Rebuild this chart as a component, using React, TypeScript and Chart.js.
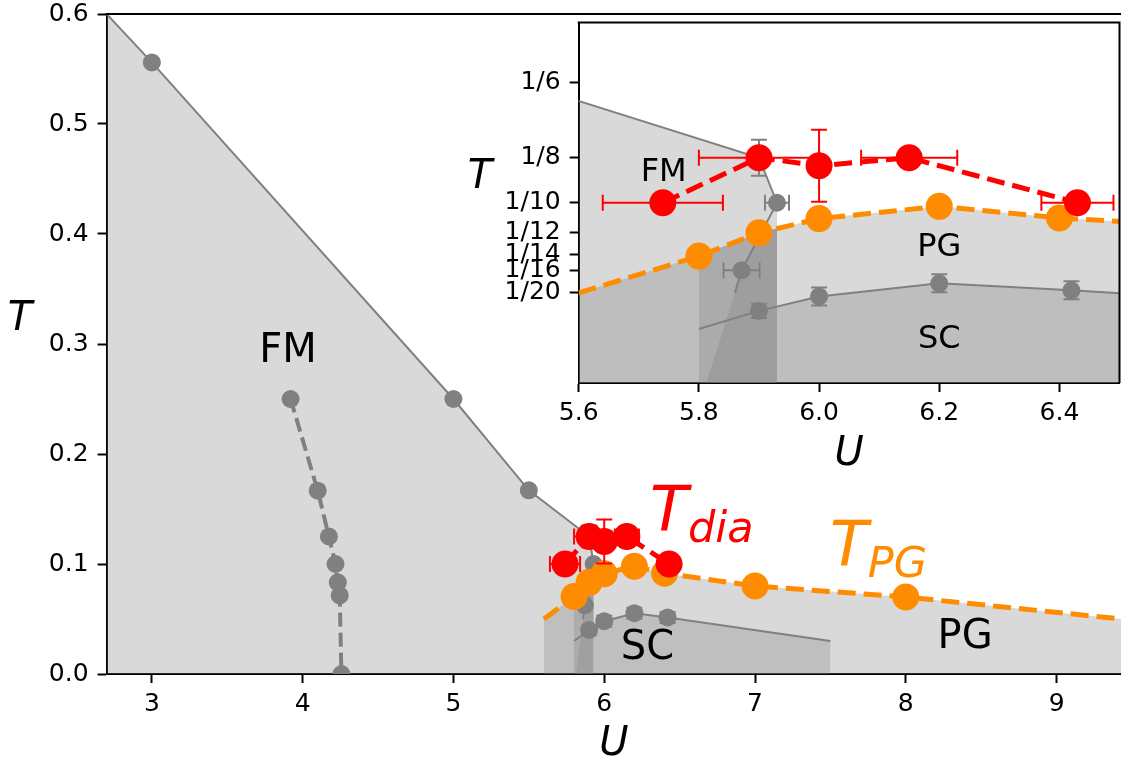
import React, { useEffect, useRef } from "react";
import { Chart, registerables } from "chart.js";

Chart.register(...registerables);

const GRAY = "#808080";
const RED = "#ff0000";
const ORANGE = "#ff8c00";
const FILL = "rgba(128,128,128,0.3)";
const FONT = "'DejaVu Sans', sans-serif";

// ---------- tick labels ----------
const mainXTicks = [3, 4, 5, 6, 7, 8, 9];
const mainXLabels = ["3", "4", "5", "6", "7", "8", "9"];
const mainYTicks = [0, 0.1, 0.2, 0.3, 0.4, 0.5, 0.6];
const mainYLabels = ["0.0", "0.1", "0.2", "0.3", "0.4", "0.5", "0.6"];
const insetXTicks = [5.6, 5.8, 6.0, 6.2, 6.4];
const insetXLabels = ["5.6", "5.8", "6.0", "6.2", "6.4"];
const insetYTicks = [1 / 20, 1 / 16, 1 / 14, 1 / 12, 1 / 10, 1 / 8, 1 / 6];
const insetYLabels = ["1/20", "1/16", "1/14", "1/12", "1/10", "1/8", "1/6"];

// ---------- FM boundary (solid gray) ----------
const fmLineU = [2.7, 3.0, 5.0, 5.5, 5.9, 5.93, 5.871, 5.86];
const fmLineT = [0.6, 0.556, 0.25, 0.167, 0.125, 0.1, 0.0625, 0.05];
const fmPtU = [3.0, 5.0, 5.5, 5.9, 5.93, 5.871];
const fmPtT = [0.556, 0.25, 0.167, 0.125, 0.1, 0.0625];
const fmPtXErr = [0, 0, 0, 0, 0.02, 0.03];
const fmPtYErr = [0, 0, 0, 0.01, 0, 0];

// ---------- low-U FM branch (dashed gray) ----------
const lowU = [3.92, 4.1, 4.174, 4.218, 4.233, 4.246, 4.257];
const lowT = [0.25, 1 / 6, 1 / 8, 1 / 10, 1 / 12, 1 / 14, 0];

// ---------- SC dome ----------
const scLineU = [5.8, 5.9, 6.0, 6.2, 6.42, 7.5];
const scLineT = [0.03, 0.04, 0.048, 0.0553, 0.0514, 0.03];
const scPtU = [5.9, 6.0, 6.2, 6.42];
const scPtT = [0.04, 0.048, 0.0553, 0.0514];
const scPtYErr = [0.004, 0.005, 0.005, 0.005];

// ---------- T_PG (orange) ----------
const pgU = [5.6, 5.8, 5.9, 6.0, 6.2, 6.4, 7.0, 8.0, 9.5];
const pgT = [0.05, 0.0704, 0.0833, 0.0912, 0.098, 0.0916, 0.08, 0.07, 0.049];
const pgPtU = [5.8, 5.9, 6.0, 6.2, 6.4, 7.0, 8.0];
const pgPtT = [0.0704, 0.0833, 0.0912, 0.098, 0.0916, 0.08, 0.07];
const pgPtYErr = [0.0033, 0.0033, 0.0033, 0.003, 0.003, 0, 0];

// ---------- T_dia (red) ----------
const diaU = [5.74, 5.9, 6.0, 6.15, 6.43];
const diaT = [0.1, 0.125, 0.1205, 0.125, 0.1];
const diaXErr = [0.1, 0.1, 0, 0.08, 0.06];
const diaYErr = [0, 0, 0.02, 0, 0];

// ---------- shaded regions ----------
const fmFillU = [2.7, 3.0, 5.0, 5.5, 5.9, 5.93];
const fmFillT = [0.6, 0.556, 0.25, 0.167, 0.125, 0.1];
const stripU = [5.8, 5.9, 5.93];
const stripT = [0.0704, 0.0833, 0.0857];
const wedgeU = [5.812, 5.86, 5.871, 5.904, 5.93];
const wedgeT = [0, 0.05, 0.0625, 0.0835, 0.0857];
const scFillU = [5.93, 6.0, 6.2, 6.42, 7.5];
const scFillT = [0.0424, 0.048, 0.0553, 0.0514, 0.03];

// ---------- text labels (data coordinates) ----------
const mainLabelText = ["FM", "SC", "PG"];
const mainLabelU = [3.903, 6.287, 8.393];
const mainLabelT = [0.2927, 0.0227, 0.0327];
const insetLabelText = ["FM", "PG", "SC"];
const insetLabelU = [5.7415, 6.2, 6.2];
const insetLabelT = [0.1168, 0.075, 0.0239];

const xy = (us: number[], ts: number[]) => us.map((u, i) => ({ x: u, y: ts[i] }));

function buildDatasets(): any[] {
  const fillDs = (us: number[], ts: number[]) => ({
    data: xy(us, ts),
    fill: "origin",
    backgroundColor: FILL,
    borderColor: "rgba(0,0,0,0)",
    borderWidth: 0,
    pointRadius: 0,
    order: 10,
  });
  return [
    fillDs(fmFillU, fmFillT),
    fillDs(pgU, pgT),
    fillDs(stripU, stripT),
    fillDs(wedgeU, wedgeT),
    fillDs(scFillU, scFillT),
    {
      data: xy(lowU, lowT),
      borderColor: GRAY,
      borderWidth: 4,
      borderDash: [14, 6],
      pointRadius: 9,
      pointBackgroundColor: GRAY,
      pointBorderWidth: 0,
      fill: false,
      order: 8,
    },
    { data: xy(fmLineU, fmLineT), borderColor: GRAY, borderWidth: 2, pointRadius: 0, fill: false, order: 7 },
    { data: xy(scLineU, scLineT), borderColor: GRAY, borderWidth: 2, pointRadius: 0, fill: false, order: 7 },
    {
      data: xy(fmPtU, fmPtT),
      showLine: false,
      pointRadius: 9,
      pointBackgroundColor: GRAY,
      pointBorderWidth: 0,
      errX: fmPtXErr,
      errY: fmPtYErr,
      errColor: GRAY,
      order: 6,
    },
    {
      data: xy(scPtU, scPtT),
      showLine: false,
      pointRadius: 9,
      pointBackgroundColor: GRAY,
      pointBorderWidth: 0,
      errY: scPtYErr,
      errColor: GRAY,
      order: 6,
    },
    {
      data: xy(pgU, pgT),
      borderColor: ORANGE,
      borderWidth: 5,
      borderDash: [18, 8],
      pointRadius: 0,
      fill: false,
      order: 4,
    },
    {
      data: xy(pgPtU, pgPtT),
      showLine: false,
      pointRadius: 13.5,
      pointBackgroundColor: ORANGE,
      pointBorderWidth: 0,
      errY: pgPtYErr,
      errColor: ORANGE,
      order: 3,
    },
    {
      data: xy(diaU, diaT),
      borderColor: RED,
      borderWidth: 5,
      borderDash: [18, 8],
      pointRadius: 13.5,
      pointBackgroundColor: RED,
      pointBorderWidth: 0,
      fill: false,
      errX: diaXErr,
      errY: diaYErr,
      errColor: RED,
      order: 1,
    },
  ];
}

function axis(
  min: number,
  max: number,
  ticks: number[],
  labels: string[],
  isX: boolean,
  size: number
): any {
  return {
    type: "linear",
    min,
    max,
    bounds: "data",
    afterBuildTicks: (s: any) => {
      s.ticks = ticks.map((v) => ({ value: v }));
    },
    afterFit: (s: any) => {
      if (isX) s.height = size;
      else s.width = size;
      s.paddingLeft = 0;
      s.paddingRight = 0;
      s.paddingTop = 0;
      s.paddingBottom = 0;
    },
    ticks: {
      autoSkip: false,
      maxRotation: 0,
      minRotation: 0,
      padding: isX ? 6 : 9,
      color: "#000",
      font: { family: FONT, size: 25 },
      callback: (_v: any, i: number) => labels[i],
    },
    grid: {
      display: true,
      drawOnChartArea: false,
      drawTicks: true,
      tickLength: 9,
      tickWidth: 2,
      tickColor: "#000",
      color: "#000",
    },
    border: { display: true, color: "#000", width: 2 },
  };
}

const errorBarPlugin = {
  id: "errorBars",
  beforeDatasetDraw(chart: any, args: any) {
    const ds = chart.data.datasets[args.index];
    if (!ds.errX && !ds.errY) return;
    const { ctx, scales } = chart;
    const xs = scales.x;
    const ys = scales.y;
    const cap = 8;
    ctx.save();
    ctx.strokeStyle = ds.errColor;
    ctx.lineWidth = 2;
    ctx.setLineDash([]);
    ds.data.forEach((p: any, i: number) => {
      const px = xs.getPixelForValue(p.x);
      const py = ys.getPixelForValue(p.y);
      const ex = ds.errX ? ds.errX[i] : 0;
      const ey = ds.errY ? ds.errY[i] : 0;
      ctx.beginPath();
      if (ex > 0) {
        const x1 = xs.getPixelForValue(p.x - ex);
        const x2 = xs.getPixelForValue(p.x + ex);
        ctx.moveTo(x1, py);
        ctx.lineTo(x2, py);
        ctx.moveTo(x1, py - cap);
        ctx.lineTo(x1, py + cap);
        ctx.moveTo(x2, py - cap);
        ctx.lineTo(x2, py + cap);
      }
      if (ey > 0) {
        const y1 = ys.getPixelForValue(p.y - ey);
        const y2 = ys.getPixelForValue(p.y + ey);
        ctx.moveTo(px, y1);
        ctx.lineTo(px, y2);
        ctx.moveTo(px - cap, y1);
        ctx.lineTo(px + cap, y1);
        ctx.moveTo(px - cap, y2);
        ctx.lineTo(px + cap, y2);
      }
      ctx.stroke();
    });
    ctx.restore();
  },
};

function drawSubLabel(
  ctx: CanvasRenderingContext2D,
  x: number,
  y: number,
  main: string,
  sub: string,
  size: number,
  subSize: number,
  color: string
) {
  ctx.fillStyle = color;
  ctx.textAlign = "left";
  ctx.textBaseline = "alphabetic";
  ctx.font = `italic ${size}px ${FONT}`;
  ctx.fillText(main, x, y);
  const w = ctx.measureText(main).width;
  ctx.font = `italic ${subSize}px ${FONT}`;
  ctx.fillText(sub, x + w, y + 0.19 * size);
}

function decorPlugin(opts: {
  inset: boolean;
  texts: string[];
  us: number[];
  ts: number[];
  textSize: number;
  uTitleDy: number;
  tTitleDx: number;
  tTitleDy: number;
}) {
  return {
    id: "decor" + (opts.inset ? "Inset" : "Main"),
    beforeDraw(chart: any) {
      if (!opts.inset) return;
      const { ctx, chartArea: a } = chart;
      ctx.save();
      ctx.fillStyle = "#fff";
      ctx.fillRect(a.left, a.top, a.right - a.left, a.bottom - a.top);
      ctx.restore();
    },
    afterDraw(chart: any) {
      const { ctx, chartArea: a, scales } = chart;
      const xs = scales.x;
      const ys = scales.y;
      ctx.save();
      // extra spines
      ctx.strokeStyle = "#000";
      ctx.lineWidth = 2;
      ctx.beginPath();
      ctx.moveTo(a.left - 1, a.top);
      ctx.lineTo(a.right + (opts.inset ? 1 : 0), a.top);
      if (opts.inset) {
        ctx.moveTo(a.right, a.top);
        ctx.lineTo(a.right, a.bottom);
      }
      ctx.stroke();
      // region labels
      ctx.fillStyle = "#000";
      ctx.textAlign = "center";
      ctx.textBaseline = "middle";
      ctx.font = `${opts.textSize}px ${FONT}`;
      opts.texts.forEach((t, i) => {
        ctx.fillText(t, xs.getPixelForValue(opts.us[i]), ys.getPixelForValue(opts.ts[i]));
      });
      // axis titles
      ctx.font = `italic 40px ${FONT}`;
      const cx = (a.left + a.right) / 2;
      const cy = (a.top + a.bottom) / 2;
      ctx.fillText("U", cx, a.bottom + opts.uTitleDy);
      ctx.fillText("T", a.left - opts.tTitleDx, cy + opts.tTitleDy);
      if (!opts.inset) {
        drawSubLabel(ctx, xs.getPixelForValue(6.304), ys.getPixelForValue(0.131), "T", "dia", 62, 43, RED);
        drawSubLabel(ctx, xs.getPixelForValue(7.497), ys.getPixelForValue(0.099), "T", "PG", 62, 43, ORANGE);
      }
      ctx.restore();
    },
  };
}

function baseOptions(scales: any, padding: any): any {
  return {
    responsive: false,
    maintainAspectRatio: false,
    animation: false,
    devicePixelRatio: 1,
    events: [],
    layout: { padding, autoPadding: false },
    plugins: { legend: { display: false }, tooltip: { enabled: false } },
    elements: { line: { tension: 0 } },
    scales,
  };
}

export default function App() {
  const mainRef = useRef<HTMLCanvasElement>(null);
  const insetRef = useRef<HTMLCanvasElement>(null);

  useEffect(() => {
    const main = new Chart(mainRef.current as HTMLCanvasElement, {
      type: "line",
      data: { datasets: buildDatasets() },
      options: baseOptions(
        {
          x: axis(2.7, 9.427, mainXTicks, mainXLabels, true, 89),
          y: axis(0, 0.6, mainYTicks, mainYLabels, false, 106.6),
        },
        { top: 14, left: 0, right: 0, bottom: 0 }
      ),
      plugins: [
        errorBarPlugin,
        decorPlugin({
          inset: false,
          texts: mainLabelText,
          us: mainLabelU,
          ts: mainLabelT,
          textSize: 40,
          uTitleDy: 71,
          tTitleDx: 86.6,
          tTitleDy: -24,
        }),
      ],
    } as any);

    const inset = new Chart(insetRef.current as HTMLCanvasElement, {
      type: "line",
      data: { datasets: buildDatasets() },
      options: baseOptions(
        {
          x: axis(5.6, 6.5, insetXTicks, insetXLabels, true, 117),
          y: axis(0, 0.2, insetYTicks, insetYLabels, false, 138.7),
        },
        { top: 22.5, left: 0, right: 1.5, bottom: 0 }
      ),
      plugins: [
        errorBarPlugin,
        decorPlugin({
          inset: true,
          texts: insetLabelText,
          us: insetLabelU,
          ts: insetLabelT,
          textSize: 32,
          uTitleDy: 72,
          tTitleDx: 98.7,
          tTitleDy: -25,
        }),
      ],
    } as any);

    return () => {
      main.destroy();
      inset.destroy();
    };
  }, []);

  return (
    <div
      style={{
        position: "fixed",
        left: 0,
        top: 0,
        width: 1121,
        height: 763,
        background: "#fff",
        overflow: "hidden",
      }}
    >
      <canvas
        ref={mainRef}
        width={1121}
        height={763}
        style={{ position: "absolute", left: 0, top: 0, width: 1121, height: 763 }}
      />
      <canvas
        ref={insetRef}
        width={681}
        height={500}
        style={{ position: "absolute", left: 440, top: 0, width: 681, height: 500 }}
      />
    </div>
  );
}
